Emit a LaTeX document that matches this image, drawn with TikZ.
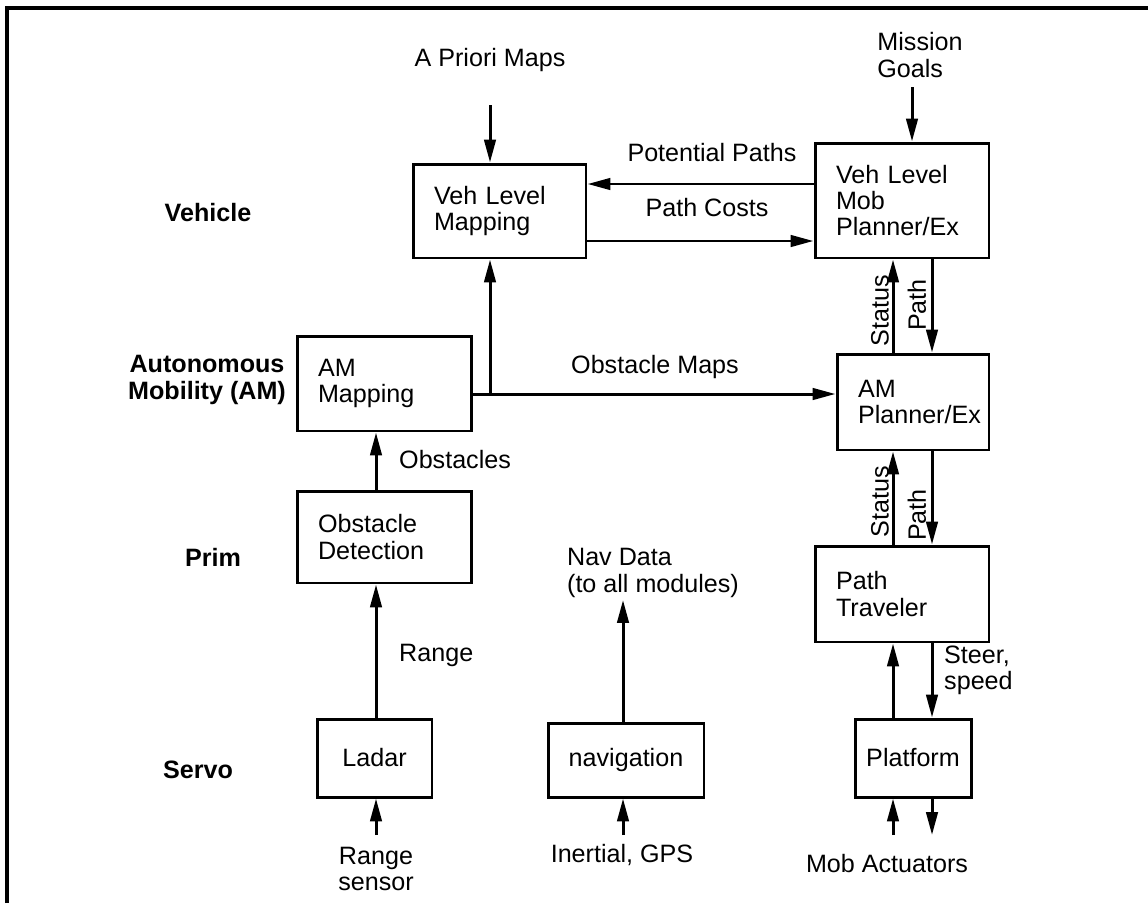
\documentclass[tikz,border=0pt]{standalone}
\usepackage{fontspec}
\setmainfont{Liberation Sans}
\usetikzlibrary{arrows.meta}

\newcommand{\lblfont}{\fontsize{14.3}{15}\selectfont}

\tikzset{
  box/.style={draw, line width=1.7pt, inner xsep=0.42cm, inner ysep=0pt, align=left},
  cbox/.style={draw, line width=1.7pt, inner sep=0pt, align=center},
  lvl/.style={font=\lblfont\bfseries, align=center},
  flow/.style={line width=1.7pt, ->, >={Triangle[length=13pt,width=6.5pt]}},
}

\begin{document}
\begin{tikzpicture}[x=0.02cm, y=-0.02cm, font=\lblfont]
\useasboundingbox (0,0) rectangle (1148,903);
\draw[line width=2.3pt] (7,903) -- (7,8) -- (1148,8);

% level names
\node[lvl] (vehicle) at (208,213) {Vehicle};
\node[lvl] (autmob) at (207,380) {Autonomous\\Mobility (AM)};
\node[lvl] (prim) at (213,557) {Prim};
\node[lvl] (servo) at (198,770) {Servo};

% modules
\node[box, text width=2.62cm, minimum height=1.88cm] (vehmap) at (499.5,211) {Veh Level\\Mapping};
\node[box, text width=2.64cm, minimum height=2.30cm] (vehplan) at (902,200.5) {Veh Level\\Mob\\Planner/Ex};
\node[box, text width=2.66cm, minimum height=1.90cm] (ammap) at (384.5,383.5) {AM\\Mapping};
\node[box, text width=2.20cm, minimum height=1.92cm] (amplan) at (913,402) {AM\\Planner/Ex};
\node[box, text width=2.66cm, minimum height=1.84cm] (obsdet) at (384.5,537) {Obstacle\\Detection};
\node[box, text width=2.64cm, minimum height=1.92cm] (traveler) at (902,594) {Path\\Traveler};
\node[cbox, minimum width=2.32cm, minimum height=1.56cm] (platform) at (913,758) {Platform};
\node[cbox, minimum width=2.30cm, minimum height=1.56cm] (ladar) at (374.5,758) {Ladar};
\node[cbox, minimum width=3.12cm, minimum height=1.48cm] (nav) at (626,760) {navigation};

\coordinate (sx) at (893,0);
\coordinate (px) at (932,0);
\coordinate (rx) at (376,0);
\coordinate (junc) at (490,394);

% inputs from above
\node (apriori) at (490,60) {A Priori Maps};
\coordinate (aprtop) at (490,105);
\draw[flow] (aprtop) -- (vehmap.north -| aprtop);
\node[align=left] (goals) at (920,55) {Mission\\Goals};
\coordinate (goaltop) at (912,87);
\draw[flow] (goaltop) -- (vehplan.north -| goaltop);

% vehicle level
\coordinate (potl) at (0,184);
\coordinate (cost) at (0,241);
\draw[flow] (vehplan.west |- potl) -- (vehmap.east |- potl);
\node (potlbl) at (712,153) {Potential Paths};
\draw[flow] (vehmap.east |- cost) -- (vehplan.west |- cost);
\node (costlbl) at (707,208) {Path Costs};

% planner chain
\draw[flow] (amplan.north -| sx) -- (vehplan.south -| sx);
\draw[flow] (vehplan.south -| px) -- (amplan.north -| px);
\node[rotate=90] (stat1) at (880,311) {Status};
\node[rotate=90] (path1) at (917,305) {Path};
\draw[flow] (traveler.north -| sx) -- (amplan.south -| sx);
\draw[flow] (amplan.south -| px) -- (traveler.north -| px);
\node[rotate=90] (stat2) at (880,502) {Status};
\node[rotate=90] (path2) at (917,515) {Path};
\draw[flow] (platform.north -| sx) -- (traveler.south -| sx);
\draw[flow] (traveler.south -| px) -- (platform.north -| px);
\node[align=left, anchor=west] (steer) at (938,670) {Steer,\\speed};

% actuators
\coordinate (actin) at (893,835);
\coordinate (actout) at (932,835);
\draw[flow] (actin) -- (platform.south -| actin);
\draw[flow] (platform.south -| actout) -- (actout);
\node (actlbl) at (887,864) {Mob Actuators};

% obstacle path
\draw[flow] (obsdet.north -| rx) -- (ammap.south -| rx);
\node[anchor=west] (obslbl) at (393,460) {Obstacles};
\draw[flow] (ammap.east |- junc) -- (amplan.west |- junc);
\draw[flow] (junc) -- (vehmap.south -| junc);
\node (mapslbl) at (655,367) {Obstacle Maps};
\draw[flow] (ladar.north -| rx) -- (obsdet.south -| rx);
\node[anchor=west] (rnglbl) at (393,655) {Range};
\coordinate (sensin) at (376,835);
\draw[flow] (sensin) -- (ladar.south -| sensin);
\node[align=center] (senslbl) at (376,869) {Range\\sensor};

% navigation
\coordinate (navtop) at (623,600);
\draw[flow] (nav.north -| navtop) -- (navtop);
\node[align=left] (navlbl) at (653,573) {Nav Data\\(to all modules)};
\coordinate (navin) at (623,835);
\draw[flow] (navin) -- (nav.south -| navin);
\node (navinlbl) at (622,855) {Inertial, GPS};
\end{tikzpicture}
\end{document}
